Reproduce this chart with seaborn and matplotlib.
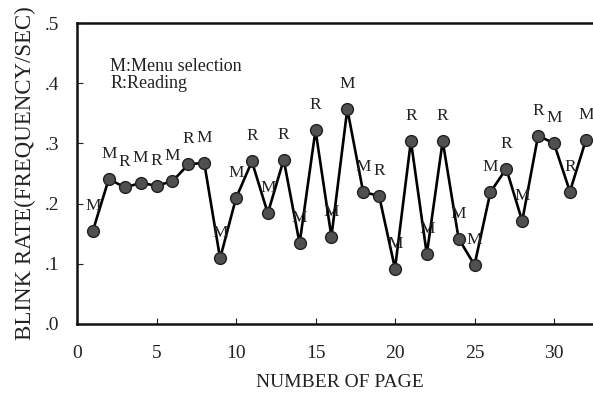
import seaborn as sns
import matplotlib.pyplot as plt
from matplotlib.ticker import FuncFormatter

sns.set_style("ticks")
plt.rcParams["font.family"] = ["Liberation Serif", "DejaVu Serif"]

# page number, blink rate and task letter per page
pages = list(range(1, 33))
rates = [0.155, 0.241, 0.227, 0.234, 0.230, 0.237, 0.265, 0.268,
         0.109, 0.209, 0.270, 0.184, 0.273, 0.134, 0.322, 0.145,
         0.357, 0.219, 0.213, 0.092, 0.304, 0.116, 0.304, 0.142,
         0.098, 0.219, 0.258, 0.171, 0.313, 0.300, 0.220, 0.305]
tasks = ["M", "M", "R", "M", "R", "M", "R", "M",
         "M", "M", "R", "M", "R", "M", "R", "M",
         "M", "M", "R", "M", "R", "M", "R", "M",
         "M", "M", "R", "M", "R", "M", "R", "M"]
x_ticks = [0, 5, 10, 15, 20, 25, 30]
y_ticks = [0.0, 0.1, 0.2, 0.3, 0.4, 0.5]

fig = plt.figure(figsize=(5.93, 4.01), dpi=100)
ax = fig.add_axes([77 / 593, 77 / 401, 525 / 593, 301 / 401])

sns.lineplot(x=pages, y=rates, ax=ax, color="black", linewidth=1.9,
             marker="o", markersize=8.5, markerfacecolor="#505050",
             markeredgecolor="#202020", markeredgewidth=1.0)

for p, r, t in zip(pages, rates, tasks):
    ax.annotate(t, (p, r), xytext=(0, 18), textcoords="offset points",
                ha="center", va="center", fontsize=12.5, color="#222222")

ax.text(0.063, 0.855, "M:Menu selection", transform=ax.transAxes,
        fontsize=13, color="#222222", va="center")
ax.text(0.063, 0.80, "R:Reading", transform=ax.transAxes,
        fontsize=13, color="#222222", va="center")

ax.set_xlim(0, 525 / 15.9)
ax.set_ylim(0, 0.5)
ax.set_xticks(x_ticks)
ax.set_yticks(y_ticks)
ax.yaxis.set_major_formatter(FuncFormatter(lambda v, _: ("%.1f" % v)[1:]))
ax.tick_params(direction="in", length=4, width=0.8, labelsize=14,
               colors="#222222")
ax.tick_params(axis="x", pad=15)
ax.tick_params(axis="y", pad=13)
for s in ["left", "bottom", "top"]:
    ax.spines[s].set_linewidth(1.8)
    ax.spines[s].set_color("#111111")
ax.spines["right"].set_visible(False)

ax.set_xlabel("NUMBER OF PAGE", fontsize=14, color="#222222", labelpad=9)
ax.set_ylabel("BLINK RATE(FREQUENCY/SEC)", fontsize=16.5, color="#222222",
              labelpad=6)

fig.savefig("out.png", dpi=100)
